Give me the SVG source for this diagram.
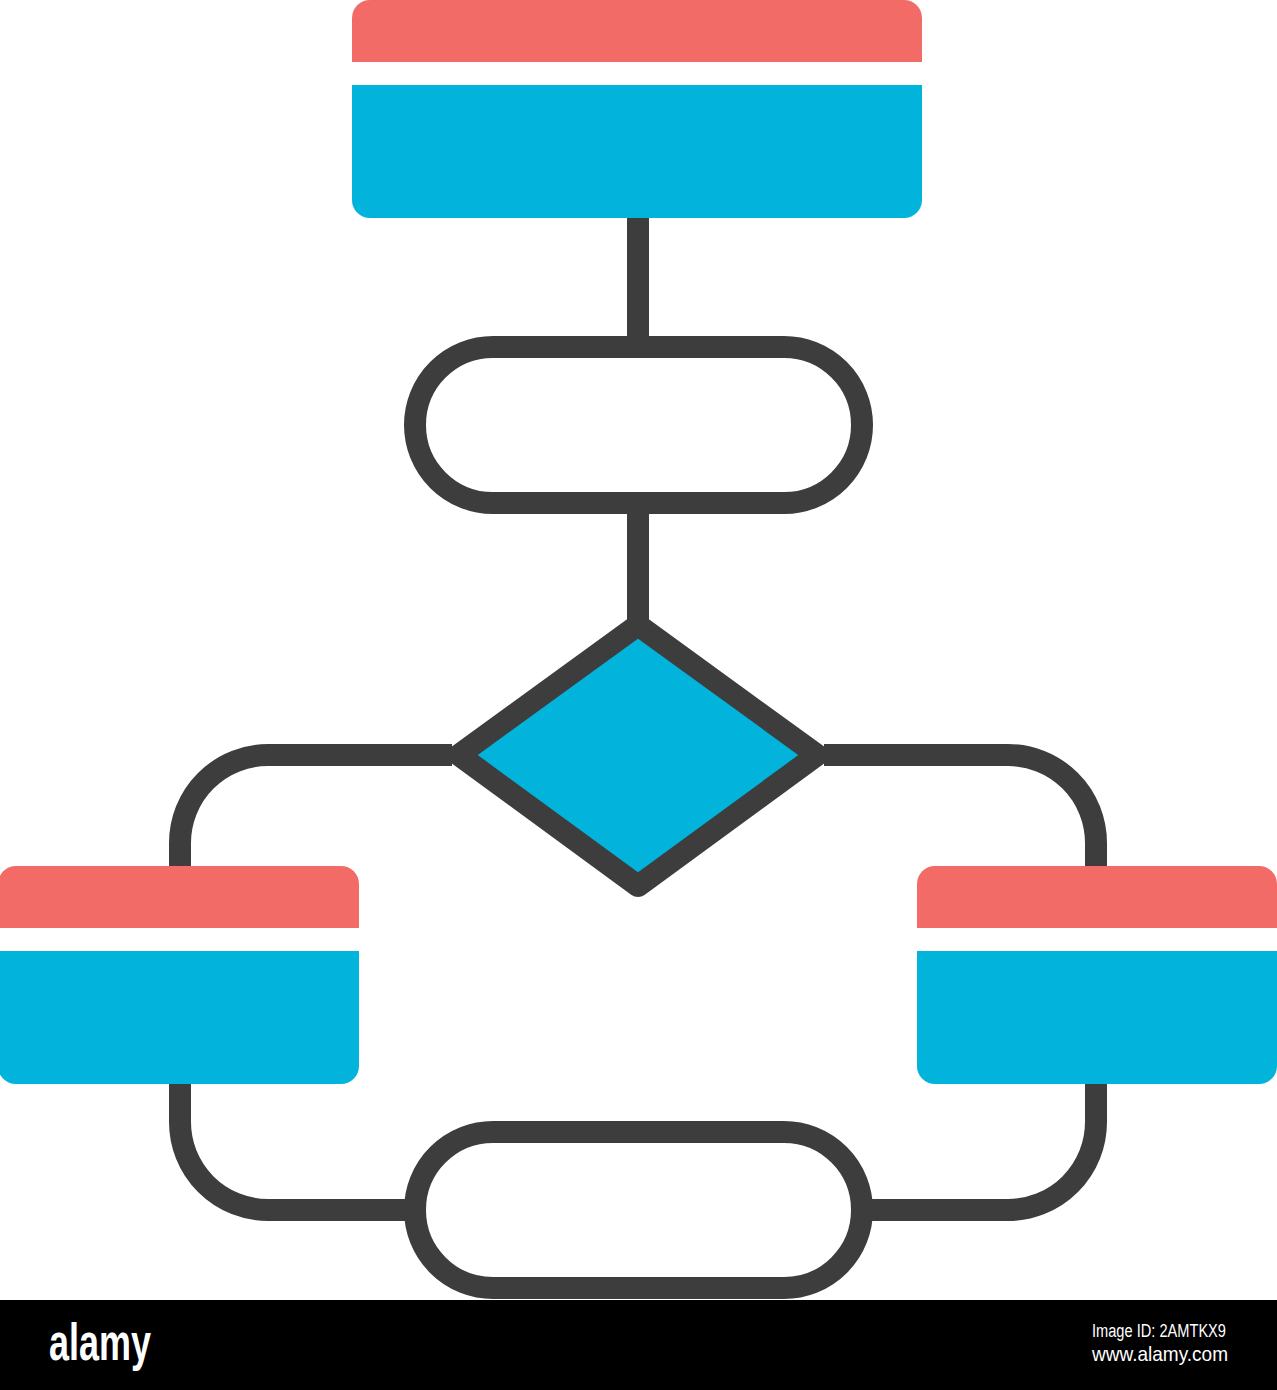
<svg xmlns="http://www.w3.org/2000/svg" width="1277" height="1390" viewBox="0 0 1277 1390">
  <style>
    .line { fill: none; stroke: #3d3d3d; stroke-width: 22; }
    .term { fill: #ffffff; stroke: #3d3d3d; stroke-width: 22; }
    .red { fill: #f26b66; }
    .blue { fill: #02b3db; }
    .wm { font-family: "Liberation Sans", Arial, sans-serif; fill: #ffffff; }
  </style>
  <rect x="0" y="0" width="1277" height="1390" fill="#ffffff"/>
  <g id="connectors">
    <path class="line" d="M 638 218 V 347"/>
    <path class="line" d="M 638 503 V 625"/>
    <path class="line" d="M 452 755 H 268 A 88 88 0 0 0 180 843 V 868"/>
    <path class="line" d="M 824 755 H 1008 A 88 88 0 0 1 1096 843 V 868"/>
    <path class="line" d="M 180 1082 V 1122 A 88 88 0 0 0 268 1210 H 410"/>
    <path class="line" d="M 1096 1082 V 1122 A 88 88 0 0 1 1008 1210 H 866"/>
  </g>
  <g id="top-box">
    <path class="red" d="M 352 62 V 18 A 18 18 0 0 1 370 0 H 904 A 18 18 0 0 1 922 18 V 62 Z"/>
    <path class="blue" d="M 352 85 H 922 V 200 A 18 18 0 0 1 904 218 H 370 A 18 18 0 0 1 352 200 Z"/>
  </g>
  <g id="top-terminator">
    <rect class="term" x="415" y="347" width="447" height="156" rx="78" ry="78"/>
  </g>
  <g id="decision">
    <polygon points="638,625 817,755 638,886 459,755" fill="#02b3db" stroke="#3d3d3d" stroke-width="22" stroke-linejoin="round"/>
  </g>
  <g id="left-box">
    <path class="red" d="M -2 928 V 884 A 18 18 0 0 1 16 866 H 341 A 18 18 0 0 1 359 884 V 928 Z"/>
    <path class="blue" d="M -2 951 H 359 V 1066 A 18 18 0 0 1 341 1084 H 16 A 18 18 0 0 1 -2 1066 Z"/>
  </g>
  <g id="right-box">
    <path class="red" d="M 917 928 V 884 A 18 18 0 0 1 935 866 H 1259 A 18 18 0 0 1 1277 884 V 928 Z"/>
    <path class="blue" d="M 917 951 H 1277 V 1066 A 18 18 0 0 1 1259 1084 H 935 A 18 18 0 0 1 917 1066 Z"/>
  </g>
  <g id="bottom-terminator">
    <rect class="term" x="415" y="1132" width="447" height="156" rx="78" ry="78"/>
  </g>
  <g id="footer">
    <rect x="0" y="1300" width="1277" height="90" fill="#000000"/>
    <text class="wm" x="49" y="1360" font-size="52" font-weight="bold" textLength="102" lengthAdjust="spacingAndGlyphs">alamy</text>
    <text class="wm" x="1092" y="1337" font-size="18" textLength="134" lengthAdjust="spacingAndGlyphs">Image ID: 2AMTKX9</text>
    <text class="wm" x="1092" y="1361" font-size="21" textLength="136" lengthAdjust="spacingAndGlyphs">www.alamy.com</text>
  </g>
</svg>
